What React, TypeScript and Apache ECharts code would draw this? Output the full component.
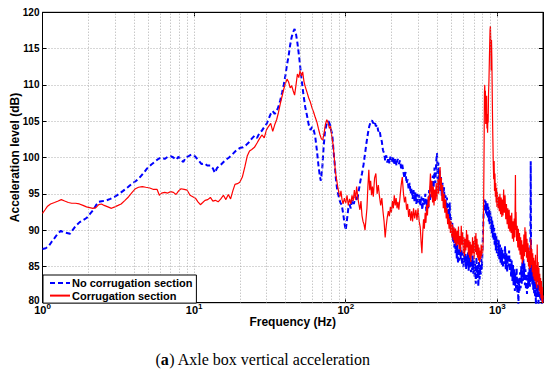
import React, { useEffect, useRef } from "react";
import * as echarts from "echarts";

const FONT = '"Liberation Sans", Arial, Helvetica, sans-serif';

const seriesNames = ["No corrugation section", "Corrugation section"];
const xAxisTitle = "Frequency (Hz)";
const yAxisTitle = "Acceleration level (dB)";
const caption = "({b|a}) Axle box vertical acceleration";

const xRange = [1, 2000];
const yRange = [80, 120];
const yStep = 5;
const xGridValues = [
  2, 3, 4, 5, 6, 7, 8, 9, 10, 20, 30, 40, 50, 60, 70, 80, 90, 100, 200, 300, 400, 500, 600, 700,
  800, 900, 1000,
];

// [frequency (Hz), level (dB)]
const noCorrugation: [number, number][] = [
  [1.0, 87.4], [1.05, 87.5], [1.1, 87.8], [1.15, 88.4], [1.2, 88.9], [1.26, 89.5], [1.32, 89.9],
  [1.38, 89.7], [1.45, 89.6], [1.52, 89.5], [1.58, 90.0], [1.66, 90.6], [1.76, 91.1], [1.86, 91.4],
  [1.96, 91.7], [2.05, 92.2], [2.15, 92.7], [2.25, 93.4], [2.35, 93.9], [2.5, 94.0], [2.65, 94.1],
  [2.8, 94.3], [3.0, 94.6], [3.2, 95.0], [3.4, 95.4], [3.65, 95.9], [3.9, 96.4], [4.15, 96.8],
  [4.4, 97.3], [4.65, 97.9], [4.9, 98.5], [5.2, 99.0], [5.5, 99.4], [5.8, 99.8], [6.1, 100.0],
  [6.4, 99.8], [6.7, 100.1], [7.0, 100.2], [7.3, 100.0], [7.6, 99.7], [7.9, 100.1], [8.2, 99.6],
  [8.5, 99.4], [8.8, 100.0], [9.2, 100.2], [9.6, 100.4], [10.0, 100.3], [10.4, 99.9], [10.8, 99.5],
  [11.2, 99.1], [11.7, 99.2], [12.2, 98.9], [12.8, 98.9], [13.3, 98.5], [13.7, 97.9], [14.2, 98.6],
  [15.0, 99.0], [16.0, 99.6], [17.0, 100.0], [18.0, 100.5], [19.0, 101.0], [20.0, 101.3],
  [21.0, 101.4], [22.0, 101.7], [23.0, 102.1], [24.0, 102.6], [25.0, 103.0], [26.0, 102.7],
  [27.0, 103.4], [28.0, 103.7], [29.0, 104.2], [30.0, 104.6], [31.0, 105.3], [32.0, 106.0],
  [33.0, 106.4], [34.0, 106.0], [35.0, 106.4], [36.0, 107.0], [37.0, 107.9], [38.0, 108.9],
  [39.0, 110.0], [40.0, 111.3], [41.0, 112.8], [42.0, 114.0], [43.0, 115.5], [44.0, 116.6],
  [45.0, 117.3], [46.0, 117.7], [47.0, 117.0], [48.0, 115.8], [49.5, 113.5], [51.0, 111.0],
  [52.5, 108.8], [54.0, 107.0], [55.5, 105.8], [57.0, 104.5], [58.5, 103.8], [60.0, 104.2],
  [61.5, 103.8], [63.0, 102.8], [64.5, 101.0], [66.0, 99.0], [67.5, 97.4], [68.5, 96.8],
  [70.0, 98.5], [71.5, 101.5], [73.0, 103.6], [75.0, 104.7], [77.0, 105.0], [78.5, 104.6],
  [80.0, 103.8], [81.5, 103.2], [83.0, 101.0], [84.5, 99.2], [86.0, 97.2], [88.0, 95.4],
  [90.0, 94.6], [92.0, 93.8], [94.0, 93.5], [96.0, 92.4], [98.0, 91.0], [100.0, 90.0],
  [102, 91.5], [104, 93.0], [106, 93.5], [108, 93.0], [110, 94.2], [113, 93.6], [116, 94.6],
  [119, 94.0], [122, 95.5], [125, 96.8], [128, 97.8], [131, 99.0], [134, 100.5], [137, 102.0],
  [140, 103.3], [143, 104.3], [146, 104.9], [149, 105.1], [152, 104.7], [155, 105.0], [158, 104.3],
  [161, 104.5], [164, 103.6], [167, 103.8], [170, 102.8], [173, 102.2], [176, 101.0], [179, 100.6],
  [182, 99.6], [185, 100.3], [188, 99.3], [191, 100.0], [194, 99.2], [197, 100.1], [200, 99.4],
  [204, 100.2], [208, 99.0], [212, 99.9], [216, 98.9], [220, 99.8], [224, 99.1], [228, 99.6],
  [232, 98.5], [236, 99.0], [240, 98.0], [244, 97.2], [248, 98.0], [252, 96.4], [256, 97.0],
  [260, 95.6], [264, 96.5], [268, 95.0], [272, 95.8], [276, 94.3], [280, 95.5], [284, 94.0],
  [288, 95.2], [292, 93.6], [296, 95.0], [300, 93.8], [305, 94.9], [310, 93.3], [315, 94.6],
  [320, 92.8], [325, 94.4], [330, 93.5], [335, 95.0], [340, 92.6], [345, 94.2], [350, 93.0],
  [355, 95.5], [360, 94.0], [365, 96.5], [370, 95.2], [375, 97.5], [380, 95.8], [385, 98.6],
  [390, 96.5], [395, 99.4], [400, 100.6], [404, 97.0], [408, 99.3], [412, 96.2], [416, 98.2],
  [420, 95.4], [425, 97.3], [430, 94.6], [435, 96.5], [440, 94.0], [445, 95.9], [450, 93.2],
  [455, 94.8], [460, 92.5], [465, 94.5], [470, 91.8], [475, 93.6], [480, 90.8], [485, 93.8],
  [490, 90.2], [495, 91.8], [500, 89.6], [505, 91.0], [510, 88.4], [515, 90.3], [520, 87.6],
  [525, 89.4], [530, 86.8], [535, 88.9], [540, 86.0], [545, 88.0], [550, 85.4], [556, 87.5],
  [562, 85.8], [568, 88.2], [574, 86.0], [580, 87.4], [586, 85.2], [592, 86.9], [598, 84.9],
  [604, 87.3], [610, 85.5], [616, 86.7], [622, 84.6], [628, 86.4], [634, 85.0], [640, 87.0],
  [646, 84.4], [652, 86.2], [658, 84.8], [664, 86.9], [670, 84.2], [676, 86.0], [682, 84.5],
  [688, 86.5], [694, 84.0], [700, 85.8], [707, 83.6], [714, 85.5], [721, 82.6], [728, 86.3],
  [735, 83.4], [742, 85.2], [749, 82.2], [756, 85.7], [763, 83.2], [770, 84.8], [777, 83.9],
  [784, 86.0], [791, 84.6], [798, 87.5], [805, 90.0], [812, 92.5], [818, 93.0], [824, 94.2],
  [830, 92.6], [836, 94.0], [842, 92.3], [848, 93.6], [854, 92.0], [860, 93.8], [866, 91.6],
  [872, 93.2], [878, 91.2], [884, 92.8], [890, 90.8], [897, 92.6], [904, 90.2], [911, 92.0],
  [918, 89.6], [925, 91.5], [932, 89.0], [939, 90.8], [946, 88.5], [953, 90.3], [960, 88.0],
  [968, 89.6], [976, 87.2], [984, 89.2], [992, 86.8], [1000, 88.8], [1010, 86.4], [1020, 88.6],
  [1030, 86.0], [1040, 88.0], [1050, 85.5], [1060, 87.6], [1070, 85.2], [1080, 87.3], [1090, 84.8],
  [1100, 87.0], [1112, 85.3], [1124, 87.8], [1136, 84.6], [1148, 86.8], [1160, 84.2], [1172, 86.5],
  [1184, 85.0], [1196, 87.2], [1208, 84.4], [1220, 86.0], [1232, 83.6], [1244, 85.8], [1256, 83.0],
  [1268, 85.2], [1280, 82.4], [1292, 84.6], [1304, 81.6], [1316, 84.0], [1328, 82.0], [1340, 84.8],
  [1352, 81.4], [1364, 83.5], [1376, 79.6], [1388, 83.0], [1400, 81.5], [1412, 84.2], [1424, 82.0],
  [1436, 85.0], [1448, 82.6], [1460, 85.6], [1472, 83.0], [1484, 86.0], [1496, 83.2], [1508, 85.4],
  [1520, 82.4], [1532, 84.6], [1544, 81.8], [1556, 84.0], [1568, 81.2], [1580, 83.4], [1592, 82.0],
  [1604, 84.2], [1616, 82.6], [1628, 84.8], [1640, 82.2], [1650, 85.0], [1660, 99.5], [1668, 86.0],
  [1676, 83.0], [1688, 85.2], [1700, 82.5], [1712, 84.6], [1724, 81.8], [1736, 84.0], [1748, 81.3],
  [1760, 83.5], [1772, 80.8], [1784, 83.0], [1796, 79.6], [1808, 82.6], [1820, 80.9], [1832, 83.2],
  [1844, 80.8], [1856, 82.5], [1868, 79.5], [1880, 82.8], [1892, 80.6], [1904, 82.2], [1916, 80.4],
  [1928, 81.8], [1940, 80.3], [1952, 81.5], [1964, 79.6], [1976, 81.0], [1988, 80.1], [2000, 80.5],
];

const corrugation: [number, number][] = [
  [1.0, 92.3], [1.04, 92.8], [1.08, 93.3], [1.13, 93.6], [1.2, 93.8], [1.27, 94.0], [1.33, 94.2],
  [1.4, 94.0], [1.48, 93.8], [1.56, 93.7], [1.65, 93.7], [1.75, 93.6], [1.85, 93.4], [1.95, 93.2],
  [2.05, 93.1], [2.15, 93.0], [2.25, 93.1], [2.35, 93.5], [2.45, 93.6], [2.55, 93.4], [2.7, 93.2],
  [2.85, 93.0], [3.0, 93.2], [3.15, 93.4], [3.3, 93.6], [3.5, 94.1], [3.7, 94.6], [3.9, 95.2],
  [4.1, 95.7], [4.3, 95.9], [4.55, 96.0], [4.8, 95.9], [5.1, 95.8], [5.4, 95.6], [5.7, 95.6],
  [5.9, 94.8], [6.1, 95.1], [6.4, 95.2], [6.7, 95.1], [7.0, 95.3], [7.3, 95.2], [7.6, 94.9],
  [7.9, 95.4], [8.2, 95.7], [8.6, 95.6], [9.0, 95.5], [9.4, 94.8], [9.8, 94.6], [10.2, 94.4],
  [10.6, 93.9], [11.0, 93.5], [11.4, 93.8], [11.8, 94.1], [12.3, 94.2], [12.8, 94.5], [13.3, 94.0],
  [13.8, 94.1], [14.4, 93.9], [15.0, 94.3], [15.6, 94.8], [16.2, 94.2], [16.8, 94.9], [17.4, 94.3],
  [18.0, 95.4], [18.6, 96.3], [19.3, 96.4], [20.0, 96.6], [20.8, 97.3], [21.6, 98.7], [22.4, 100.2],
  [23.2, 100.9], [24.0, 101.1], [25.0, 101.4], [26.0, 102.0], [27.0, 102.6], [28.0, 103.1],
  [29.0, 102.7], [30.0, 103.8], [31.0, 104.3], [32.0, 104.7], [33.0, 103.6], [34.0, 104.5],
  [35.0, 105.2], [36.0, 106.2], [37.0, 107.4], [38.0, 108.4], [39.0, 109.4], [40.0, 110.2],
  [41.0, 110.8], [42.0, 110.4], [43.0, 109.6], [44.0, 109.9], [45.0, 109.2], [46.0, 108.6],
  [47.0, 110.0], [48.0, 111.5], [49.0, 111.0], [50.0, 112.0], [51.0, 111.2], [52.0, 111.8],
  [53.0, 110.5], [54.0, 109.8], [55.5, 109.0], [57.0, 108.2], [58.5, 107.6], [60.0, 106.8],
  [61.5, 106.2], [63.0, 105.5], [64.5, 104.9], [66.0, 104.0], [67.5, 103.2], [69.0, 102.6],
  [70.5, 102.4], [72.0, 103.4], [73.5, 104.6], [75.0, 105.2], [76.5, 104.8], [78.0, 104.0],
  [79.5, 104.3], [81.0, 102.8], [82.5, 101.8], [84.0, 100.0], [85.5, 98.0], [87.0, 97.0],
  [88.5, 96.0], [90.0, 95.2], [91.5, 94.6], [93.0, 95.4], [94.5, 94.2], [96.0, 93.6], [98.0, 94.4],
  [100, 93.7], [102, 94.8], [104, 93.4], [106, 94.3], [108, 93.6], [110, 94.8], [112, 94.0],
  [114, 95.5], [116, 94.2], [118, 96.0], [120, 94.5], [122, 93.6], [124, 92.8], [126, 94.0],
  [128, 92.0], [130, 91.2], [132, 90.8], [134, 90.0], [136, 91.5], [138, 93.0], [140, 96.0],
  [142, 98.3], [144, 95.5], [146, 96.8], [148, 94.8], [150, 96.0], [152, 94.6], [155, 97.2],
  [158, 97.8], [161, 95.0], [164, 96.2], [167, 94.6], [170, 93.4], [173, 94.4], [176, 92.6],
  [179, 91.2], [182, 89.0], [185, 90.6], [188, 91.8], [191, 92.6], [194, 91.9], [197, 93.2],
  [200, 92.4], [203, 94.0], [206, 93.0], [209, 94.8], [212, 93.4], [215, 94.4], [218, 93.0],
  [221, 93.9], [224, 92.8], [228, 94.5], [232, 96.2], [236, 97.3], [240, 95.2], [244, 93.8],
  [248, 94.6], [252, 92.8], [256, 93.6], [260, 91.8], [264, 92.9], [268, 91.3], [272, 92.6],
  [276, 91.2], [280, 93.0], [285, 91.6], [290, 92.8], [295, 91.4], [300, 93.0], [305, 91.2],
  [310, 90.4], [315, 88.0], [318, 86.8], [322, 89.6], [326, 91.5], [330, 90.2], [334, 92.4],
  [338, 91.0], [342, 93.5], [346, 92.0], [350, 94.6], [354, 93.2], [358, 95.8], [362, 97.8],
  [366, 94.5], [370, 96.8], [374, 93.8], [378, 96.0], [382, 93.4], [386, 95.6], [390, 94.0],
  [395, 96.5], [400, 94.2], [405, 97.0], [410, 95.0], [415, 97.6], [419, 98.7], [423, 95.5],
  [427, 97.2], [431, 94.0], [435, 96.2], [440, 93.0], [445, 95.0], [450, 92.4], [455, 94.2],
  [460, 91.6], [465, 93.0], [470, 90.8], [475, 92.2], [480, 90.2], [485, 91.6], [490, 89.6],
  [495, 91.2], [500, 89.0], [506, 90.8], [512, 88.6], [518, 90.4], [524, 88.2], [530, 90.2],
  [536, 87.8], [542, 89.9], [548, 88.0], [554, 90.5], [560, 87.4], [566, 89.2], [572, 87.0],
  [578, 90.6], [584, 88.0], [590, 89.7], [596, 86.8], [602, 89.0], [608, 86.4], [614, 88.8],
  [620, 87.2], [626, 90.0], [632, 87.6], [638, 89.4], [644, 86.6], [650, 88.6], [656, 86.2],
  [662, 88.4], [668, 85.6], [674, 88.0], [680, 86.5], [686, 89.0], [692, 86.8], [698, 88.5],
  [704, 86.0], [710, 89.2], [716, 87.0], [722, 89.6], [728, 86.6], [734, 88.8], [740, 86.2],
  [746, 88.0], [752, 85.8], [758, 87.6], [764, 85.5], [770, 87.2], [776, 86.0], [782, 88.0],
  [788, 86.4], [794, 87.8], [800, 86.9], [806, 88.5], [812, 94.0], [818, 102.0], [822, 109.0],
  [826, 110.0], [830, 106.5], [834, 109.2], [838, 104.6], [842, 107.8], [846, 105.2], [850, 108.5],
  [854, 104.0], [858, 106.0], [862, 103.4], [866, 105.6], [870, 104.8], [875, 109.0], [880, 110.5],
  [885, 113.0], [890, 115.5], [895, 117.6], [900, 118.1], [905, 116.0], [910, 112.0], [915, 116.2],
  [920, 113.5], [925, 109.0], [930, 105.0], [935, 102.0], [940, 99.0], [946, 97.0], [952, 99.5],
  [958, 95.4], [964, 97.8], [970, 94.6], [976, 96.5], [982, 93.8], [988, 95.8], [994, 93.2],
  [1000, 95.2], [1010, 93.0], [1020, 94.6], [1030, 92.6], [1040, 95.0], [1050, 92.2], [1060, 94.5],
  [1070, 91.8], [1080, 94.2], [1090, 92.0], [1100, 95.6], [1112, 92.4], [1124, 94.8], [1136, 91.5],
  [1148, 93.6], [1160, 90.8], [1172, 93.0], [1184, 90.2], [1196, 92.8], [1208, 89.8], [1220, 92.0],
  [1232, 89.6], [1244, 92.4], [1256, 88.8], [1268, 91.2], [1280, 88.4], [1292, 91.6], [1304, 89.0],
  [1316, 97.6], [1322, 90.0], [1328, 92.5], [1340, 88.5], [1352, 90.6], [1364, 87.6], [1376, 90.2],
  [1388, 87.2], [1400, 89.6], [1412, 86.6], [1424, 89.0], [1436, 86.0], [1448, 88.6], [1460, 85.4],
  [1472, 88.0], [1484, 85.8], [1496, 89.4], [1508, 86.4], [1520, 90.4], [1532, 87.0], [1544, 89.8],
  [1556, 86.2], [1568, 88.8], [1580, 85.6], [1592, 88.2], [1604, 85.0], [1616, 87.6], [1628, 84.6],
  [1640, 87.2], [1652, 84.8], [1664, 88.8], [1676, 85.2], [1688, 87.4], [1700, 84.2], [1712, 86.8],
  [1724, 83.6], [1736, 86.2], [1748, 83.2], [1760, 85.8], [1772, 83.0], [1784, 86.6], [1796, 82.6],
  [1808, 85.2], [1820, 82.0], [1832, 88.0], [1844, 83.0], [1856, 85.6], [1868, 82.4], [1880, 84.8],
  [1892, 81.6], [1904, 84.0], [1916, 81.2], [1928, 83.4], [1940, 80.6], [1952, 83.0], [1964, 80.2],
  [1976, 82.2], [1988, 79.6], [2000, 81.0],
];

const gridLineStyle = { color: "#9a9a9a", width: 0.8, type: [1, 2] as number[] };

function decadeLabel(v: number): string {
  const e = Math.log10(v);
  if (Math.abs(e - Math.round(e)) > 1e-6) return "";
  return `{b|10}{s|${Math.round(e)}}`;
}

function levelLabel(v: number): string {
  return v === yRange[0] ? `{lo|${v}}` : `${v}`;
}

export default function App() {
  const ref = useRef<HTMLDivElement>(null);

  useEffect(() => {
    if (!ref.current) return;
    const chart = echarts.init(ref.current, null, { renderer: "svg" });
    const axisTextColor = "#000";
    chart.setOption({
      animation: false,
      backgroundColor: "#fff",
      grid: {
        left: 42.5,
        right: 7,
        top: 12.3,
        bottom: 67.3,
        show: true,
        borderColor: "#000",
        borderWidth: 1,
        containLabel: false,
        outerBoundsMode: "none",
      },
      xAxis: [
        {
          type: "log",
          logBase: 10,
          min: xRange[0],
          max: xRange[1],
          name: xAxisTitle,
          nameLocation: "middle",
          nameGap: 13.3,
          nameMoveOverlap: false,
          nameTextStyle: { fontFamily: FONT, fontSize: 12, fontWeight: "bold", color: axisTextColor },
          axisLine: { show: true, lineStyle: { color: "#000", width: 1 } },
          axisTick: { show: true, inside: true, length: 4, lineStyle: { color: "#000" } },
          splitLine: { show: false },
          axisLabel: {
            margin: 3.3,
            formatter: decadeLabel,
            color: axisTextColor,
            rich: {
              b: { fontFamily: FONT, fontSize: 11, fontWeight: "bold", color: "#000", verticalAlign: "bottom", lineHeight: 9 },
              s: { fontFamily: FONT, fontSize: 8, fontWeight: "bold", color: "#000", verticalAlign: "bottom", lineHeight: 6, padding: [0, 0, 4.5, 0] },
            },
          },
        },
        {
          type: "log",
          logBase: 10,
          position: "top",
          min: xRange[0],
          max: xRange[1],
          axisLine: { show: true, lineStyle: { color: "#000", width: 1 } },
          axisTick: { show: true, inside: true, length: 4, lineStyle: { color: "#000" } },
          axisLabel: { show: false },
          splitLine: { show: false },
        },
      ],
      yAxis: [
        {
          type: "value",
          min: yRange[0],
          max: yRange[1],
          interval: yStep,
          name: yAxisTitle,
          nameLocation: "middle",
          nameGap: 21.5,
          nameMoveOverlap: false,
          nameTextStyle: { fontFamily: FONT, fontSize: 12, fontWeight: "bold", color: axisTextColor },
          axisLine: { show: true, lineStyle: { color: "#000", width: 1 } },
          axisTick: { show: true, inside: true, length: 4, lineStyle: { color: "#000" } },
          axisLabel: {
            margin: 3,
            formatter: levelLabel,
            fontFamily: FONT,
            fontSize: 10,
            fontWeight: "bold",
            color: axisTextColor,
            lineHeight: 7,
            rich: {
              lo: { fontFamily: FONT, fontSize: 10, fontWeight: "bold", color: "#000", lineHeight: 7, padding: [0, 0, 5, 0] },
            },
          },
          splitLine: { show: true, lineStyle: gridLineStyle },
        },
        {
          type: "value",
          position: "right",
          min: yRange[0],
          max: yRange[1],
          interval: yStep,
          axisLine: { show: true, lineStyle: { color: "#000", width: 1 } },
          axisTick: { show: true, inside: true, length: 4, lineStyle: { color: "#000" } },
          axisLabel: { show: false },
          splitLine: { show: false },
        },
      ],
      legend: {
        data: seriesNames,
        orient: "vertical",
        left: 43,
        top: 275,
        itemWidth: 20,
        itemHeight: 10,
        itemGap: 1.6,
        padding: [2.5, 4, 2, 6],
        borderColor: "#000",
        borderWidth: 1,
        borderRadius: 0,
        backgroundColor: "#fff",
        itemStyle: { opacity: 0 },
        textStyle: { fontFamily: FONT, fontSize: 11, fontWeight: "bold", color: "#000", padding: [0, 0, 0, -3] },
        selectedMode: false,
        z: 10,
      },
      graphic: [
        {
          type: "text",
          x: 263,
          y: 359,
          style: {
            text: caption,
            fill: "#000",
            font: '16px "Liberation Serif", "Times New Roman", serif',
            fontFamily: '"Liberation Serif", "Times New Roman", serif',
            fontSize: 16,
            textAlign: "center",
            textVerticalAlign: "middle",
            rich: {
              b: { fontFamily: '"Liberation Serif", "Times New Roman", serif', fontSize: 16, fontWeight: "bold", fill: "#000" },
            },
          },
        },
      ],
      series: [
        {
          name: "xgrid",
          type: "line",
          data: [[xRange[0], yRange[0]]],
          symbol: "none",
          lineStyle: { opacity: 0 },
          silent: true,
          z: 1,
          markLine: {
            silent: true,
            symbol: ["none", "none"],
            label: { show: false },
            emphasis: { disabled: true },
            lineStyle: gridLineStyle,
            data: xGridValues.map((v) => ({ xAxis: v })),
          },
        },
        {
          name: seriesNames[0],
          type: "line",
          data: noCorrugation,
          symbol: "none",
          showSymbol: false,
          z: 3,
          lineStyle: { color: "#0000ff", width: 2, type: [5, 3] },
          itemStyle: { color: "#0000ff" },
        },
        {
          name: seriesNames[1],
          type: "line",
          data: corrugation,
          symbol: "none",
          showSymbol: false,
          z: 4,
          lineStyle: { color: "#ff0000", width: 1.2 },
          itemStyle: { color: "#ff0000" },
        },
      ],
    });
    return () => chart.dispose();
  }, []);

  return <div ref={ref} style={{ position: "absolute", left: 0, top: 0, width: 550, height: 370 }} />;
}
